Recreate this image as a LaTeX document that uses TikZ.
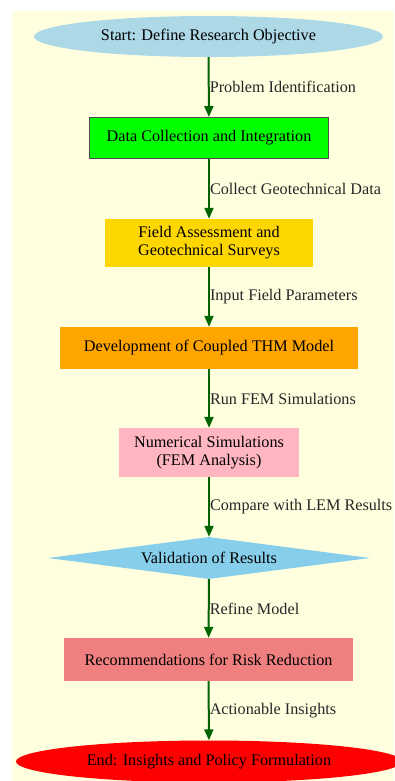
\documentclass[tikz,border=0pt]{standalone}
\usepackage{fontspec}
\setmainfont{Liberation Serif}
\usetikzlibrary{shapes.geometric,arrows.meta}
\definecolor{bgyellow}{HTML}{FFFFE0}
\definecolor{startblue}{HTML}{ADD8E6}
\definecolor{datagreen}{HTML}{00FF00}
\definecolor{fieldgold}{HTML}{FFD700}
\definecolor{thmorange}{HTML}{FFA500}
\definecolor{numpink}{HTML}{FFB6C1}
\definecolor{valblue}{HTML}{87CEEB}
\definecolor{reccoral}{HTML}{F08080}
\definecolor{endred}{HTML}{FF0000}
\definecolor{arrowgreen}{HTML}{006400}
\definecolor{labelgray}{HTML}{262626}
\begin{document}
\begin{tikzpicture}[x=1pt,y=-1pt,
  every node/.style={font=\fontsize{16.2}{18}\selectfont, text=black},
  boxnode/.style={rectangle, inner sep=0pt, align=center},
  ovalnode/.style={ellipse, inner sep=0pt},
  flow/.style={draw=arrowgreen, line width=2pt, -{Triangle[length=11pt,width=9pt]}},
  edgelabel/.style={midway, anchor=west, inner sep=0pt, xshift=0pt, text=labelgray}
]
\useasboundingbox (0,0) rectangle (394,781);
\fill[bgyellow] (12,11) rectangle (394,781);

\node[ovalnode, fill=startblue, minimum width=349pt, minimum height=41pt] (start) at (208.5,36.5) {Start: Define Research Objective};
\node[boxnode, fill=datagreen, draw=black!70, line width=1pt, minimum width=239pt, minimum height=41pt] (data) at (209,138) {Data Collection and Integration};
\node[boxnode, fill=fieldgold, minimum width=208pt, minimum height=48pt] (field) at (209,243) {Field Assessment and\\Geotechnical Surveys};
\node[boxnode, fill=thmorange, minimum width=298pt, minimum height=42pt] (thm) at (209,348) {Development of Coupled THM Model};
\node[boxnode, fill=numpink, minimum width=180pt, minimum height=49pt] (num) at (209,452.5) {Numerical Simulations\\(FEM Analysis)};
\node[diamond, shape aspect=7.6, inner sep=0pt, fill=valblue, minimum width=322pt, minimum height=42pt] (val) at (209,558) {Validation of Results};
\node[boxnode, fill=reccoral, minimum width=289pt, minimum height=43pt] (rec) at (208.5,659.5) {Recommendations for Risk Reduction};
\node[ovalnode, fill=endred, minimum width=386pt, minimum height=42pt] (end) at (209,761.5) {End: Insights and Policy Formulation};

\draw[flow] (start) -- node[edgelabel] {Problem Identification} (data);
\draw[flow] (data) -- node[edgelabel] {Collect Geotechnical Data} (field);
\draw[flow] (field) -- node[edgelabel] {Input Field Parameters} (thm);
\draw[flow] (thm) -- node[edgelabel] {Run FEM Simulations} (num);
\draw[flow] (num) -- node[edgelabel] {Compare with LEM Results} (val);
\draw[flow] (val) -- node[edgelabel] {Refine Model} (rec);
\draw[flow] (rec) -- node[edgelabel] {Actionable Insights} (end);
\end{tikzpicture}
\end{document}
